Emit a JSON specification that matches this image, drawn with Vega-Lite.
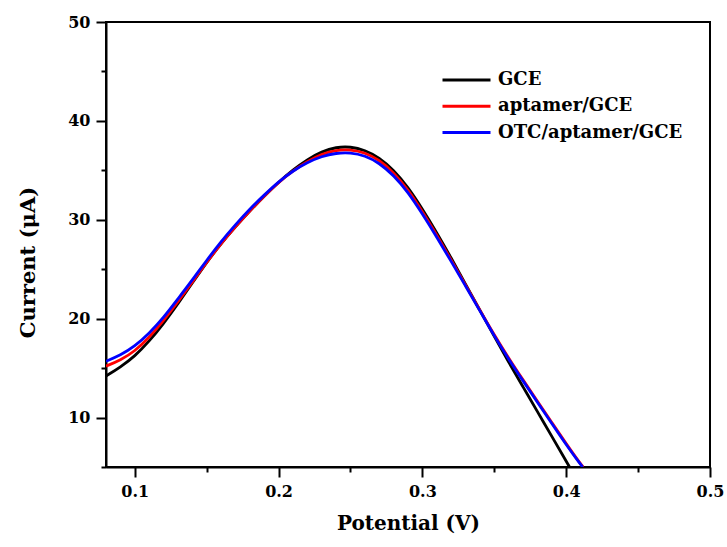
{
  "$schema": "https://vega.github.io/schema/vega-lite/v6.json",
  "width": 604,
  "height": 445,
  "autosize": {"type": "none"},
  "padding": {"left": 106, "top": 22, "right": 17, "bottom": 80},
  "background": "white",
  "config": {
    "view": {"stroke": "black", "strokeWidth": 2},
    "font": "DejaVu Serif"
  },
  "data": {
    "values": [
      {"electrode": "GCE", "potential": 0.080, "current": 14.2},
      {"electrode": "GCE", "potential": 0.090, "current": 15.1},
      {"electrode": "GCE", "potential": 0.100, "current": 16.2},
      {"electrode": "GCE", "potential": 0.110, "current": 17.7},
      {"electrode": "GCE", "potential": 0.120, "current": 19.5},
      {"electrode": "GCE", "potential": 0.130, "current": 21.5},
      {"electrode": "GCE", "potential": 0.140, "current": 23.6},
      {"electrode": "GCE", "potential": 0.150, "current": 25.7},
      {"electrode": "GCE", "potential": 0.160, "current": 27.6},
      {"electrode": "GCE", "potential": 0.170, "current": 29.3},
      {"electrode": "GCE", "potential": 0.180, "current": 30.9},
      {"electrode": "GCE", "potential": 0.190, "current": 32.4},
      {"electrode": "GCE", "potential": 0.200, "current": 33.8},
      {"electrode": "GCE", "potential": 0.210, "current": 35.05},
      {"electrode": "GCE", "potential": 0.220, "current": 36.1},
      {"electrode": "GCE", "potential": 0.230, "current": 36.9},
      {"electrode": "GCE", "potential": 0.240, "current": 37.35},
      {"electrode": "GCE", "potential": 0.250, "current": 37.4},
      {"electrode": "GCE", "potential": 0.260, "current": 37.05},
      {"electrode": "GCE", "potential": 0.270, "current": 36.3},
      {"electrode": "GCE", "potential": 0.280, "current": 35.05},
      {"electrode": "GCE", "potential": 0.290, "current": 33.3},
      {"electrode": "GCE", "potential": 0.300, "current": 31.1},
      {"electrode": "GCE", "potential": 0.310, "current": 28.7},
      {"electrode": "GCE", "potential": 0.320, "current": 26.15},
      {"electrode": "GCE", "potential": 0.330, "current": 23.5},
      {"electrode": "GCE", "potential": 0.340, "current": 20.85},
      {"electrode": "GCE", "potential": 0.350, "current": 18.2},
      {"electrode": "GCE", "potential": 0.360, "current": 15.6},
      {"electrode": "GCE", "potential": 0.370, "current": 13.1},
      {"electrode": "GCE", "potential": 0.380, "current": 10.6},
      {"electrode": "GCE", "potential": 0.390, "current": 8.1},
      {"electrode": "GCE", "potential": 0.400, "current": 5.6},
      {"electrode": "GCE", "potential": 0.4023, "current": 5.0},
      {"electrode": "aptamer/GCE", "potential": 0.080, "current": 15.2},
      {"electrode": "aptamer/GCE", "potential": 0.090, "current": 15.8},
      {"electrode": "aptamer/GCE", "potential": 0.100, "current": 16.7},
      {"electrode": "aptamer/GCE", "potential": 0.110, "current": 18.1},
      {"electrode": "aptamer/GCE", "potential": 0.120, "current": 19.8},
      {"electrode": "aptamer/GCE", "potential": 0.130, "current": 21.7},
      {"electrode": "aptamer/GCE", "potential": 0.140, "current": 23.7},
      {"electrode": "aptamer/GCE", "potential": 0.150, "current": 25.7},
      {"electrode": "aptamer/GCE", "potential": 0.160, "current": 27.6},
      {"electrode": "aptamer/GCE", "potential": 0.170, "current": 29.3},
      {"electrode": "aptamer/GCE", "potential": 0.180, "current": 30.9},
      {"electrode": "aptamer/GCE", "potential": 0.190, "current": 32.4},
      {"electrode": "aptamer/GCE", "potential": 0.200, "current": 33.8},
      {"electrode": "aptamer/GCE", "potential": 0.210, "current": 34.95},
      {"electrode": "aptamer/GCE", "potential": 0.220, "current": 35.9},
      {"electrode": "aptamer/GCE", "potential": 0.230, "current": 36.65},
      {"electrode": "aptamer/GCE", "potential": 0.240, "current": 37.05},
      {"electrode": "aptamer/GCE", "potential": 0.250, "current": 37.1},
      {"electrode": "aptamer/GCE", "potential": 0.260, "current": 36.8},
      {"electrode": "aptamer/GCE", "potential": 0.270, "current": 36.05},
      {"electrode": "aptamer/GCE", "potential": 0.280, "current": 34.8},
      {"electrode": "aptamer/GCE", "potential": 0.290, "current": 33.05},
      {"electrode": "aptamer/GCE", "potential": 0.300, "current": 30.85},
      {"electrode": "aptamer/GCE", "potential": 0.310, "current": 28.45},
      {"electrode": "aptamer/GCE", "potential": 0.320, "current": 25.95},
      {"electrode": "aptamer/GCE", "potential": 0.330, "current": 23.4},
      {"electrode": "aptamer/GCE", "potential": 0.340, "current": 20.85},
      {"electrode": "aptamer/GCE", "potential": 0.350, "current": 18.35},
      {"electrode": "aptamer/GCE", "potential": 0.360, "current": 16.0},
      {"electrode": "aptamer/GCE", "potential": 0.370, "current": 13.8},
      {"electrode": "aptamer/GCE", "potential": 0.380, "current": 11.65},
      {"electrode": "aptamer/GCE", "potential": 0.390, "current": 9.5},
      {"electrode": "aptamer/GCE", "potential": 0.400, "current": 7.35},
      {"electrode": "aptamer/GCE", "potential": 0.410, "current": 5.3},
      {"electrode": "aptamer/GCE", "potential": 0.4118, "current": 5.0},
      {"electrode": "OTC/aptamer/GCE", "potential": 0.080, "current": 15.7},
      {"electrode": "OTC/aptamer/GCE", "potential": 0.090, "current": 16.3},
      {"electrode": "OTC/aptamer/GCE", "potential": 0.100, "current": 17.2},
      {"electrode": "OTC/aptamer/GCE", "potential": 0.110, "current": 18.5},
      {"electrode": "OTC/aptamer/GCE", "potential": 0.120, "current": 20.1},
      {"electrode": "OTC/aptamer/GCE", "potential": 0.130, "current": 22.0},
      {"electrode": "OTC/aptamer/GCE", "potential": 0.140, "current": 23.9},
      {"electrode": "OTC/aptamer/GCE", "potential": 0.150, "current": 25.9},
      {"electrode": "OTC/aptamer/GCE", "potential": 0.160, "current": 27.8},
      {"electrode": "OTC/aptamer/GCE", "potential": 0.170, "current": 29.5},
      {"electrode": "OTC/aptamer/GCE", "potential": 0.180, "current": 31.1},
      {"electrode": "OTC/aptamer/GCE", "potential": 0.190, "current": 32.5},
      {"electrode": "OTC/aptamer/GCE", "potential": 0.200, "current": 33.85},
      {"electrode": "OTC/aptamer/GCE", "potential": 0.210, "current": 34.95},
      {"electrode": "OTC/aptamer/GCE", "potential": 0.220, "current": 35.8},
      {"electrode": "OTC/aptamer/GCE", "potential": 0.230, "current": 36.42},
      {"electrode": "OTC/aptamer/GCE", "potential": 0.240, "current": 36.75},
      {"electrode": "OTC/aptamer/GCE", "potential": 0.250, "current": 36.8},
      {"electrode": "OTC/aptamer/GCE", "potential": 0.260, "current": 36.5},
      {"electrode": "OTC/aptamer/GCE", "potential": 0.270, "current": 35.75},
      {"electrode": "OTC/aptamer/GCE", "potential": 0.280, "current": 34.5},
      {"electrode": "OTC/aptamer/GCE", "potential": 0.290, "current": 32.8},
      {"electrode": "OTC/aptamer/GCE", "potential": 0.300, "current": 30.6},
      {"electrode": "OTC/aptamer/GCE", "potential": 0.310, "current": 28.25},
      {"electrode": "OTC/aptamer/GCE", "potential": 0.320, "current": 25.8},
      {"electrode": "OTC/aptamer/GCE", "potential": 0.330, "current": 23.3},
      {"electrode": "OTC/aptamer/GCE", "potential": 0.340, "current": 20.8},
      {"electrode": "OTC/aptamer/GCE", "potential": 0.350, "current": 18.25},
      {"electrode": "OTC/aptamer/GCE", "potential": 0.360, "current": 15.9},
      {"electrode": "OTC/aptamer/GCE", "potential": 0.370, "current": 13.7},
      {"electrode": "OTC/aptamer/GCE", "potential": 0.380, "current": 11.55},
      {"electrode": "OTC/aptamer/GCE", "potential": 0.390, "current": 9.4},
      {"electrode": "OTC/aptamer/GCE", "potential": 0.400, "current": 7.25},
      {"electrode": "OTC/aptamer/GCE", "potential": 0.410, "current": 5.25},
      {"electrode": "OTC/aptamer/GCE", "potential": 0.4115, "current": 5.0}
    ]
  },
  "mark": {"type": "line", "interpolate": "basis", "strokeWidth": 2.8, "clip": true},
  "encoding": {
    "x": {
      "field": "potential",
      "type": "quantitative",
      "scale": {"domain": [0.08, 0.5], "nice": false, "zero": false},
      "axis": {
        "values": [0.1, 0.15, 0.2, 0.25, 0.3, 0.35, 0.4, 0.45, 0.5],
        "title": "Potential (V)",
        "grid": false,
        "domainColor": "black",
        "domainWidth": 2,
        "tickColor": "black",
        "tickWidth": 2,
        "tickSize": {"condition": {"test": "abs(datum.value*10 - round(datum.value*10)) < 0.001", "value": 10}, "value": 5},
        "labelExpr": "abs(datum.value*10 - round(datum.value*10)) < 0.001 ? format(datum.value, '.1f') : ''",
        "labelFont": "DejaVu Serif",
        "labelFontSize": 16,
        "labelFontWeight": "bold",
        "labelColor": "black",
        "labelPadding": 6,
        "labelFlush": false,
        "labelOverlap": false,
        "titleFont": "DejaVu Serif",
        "titleFontSize": 20,
        "titleFontWeight": "bold",
        "titleColor": "black",
        "titleBaseline": "alphabetic",
        "titleY": 62
      }
    },
    "y": {
      "field": "current",
      "type": "quantitative",
      "scale": {"domain": [5, 50], "nice": false, "zero": false},
      "axis": {
        "values": [5, 10, 15, 20, 25, 30, 35, 40, 45, 50],
        "title": "Current (μA)",
        "grid": false,
        "domainColor": "black",
        "domainWidth": 2,
        "tickColor": "black",
        "tickWidth": 2,
        "tickSize": {"condition": {"test": "datum.value % 10 === 0", "value": 10}, "value": 5},
        "labelExpr": "datum.value % 10 === 0 ? datum.label : ''",
        "labelFont": "DejaVu Serif",
        "labelFontSize": 16,
        "labelFontWeight": "bold",
        "labelColor": "black",
        "labelPadding": 6,
        "labelFlush": false,
        "labelOverlap": false,
        "titleFont": "DejaVu Serif",
        "titleFontSize": 21,
        "titleFontWeight": "bold",
        "titleColor": "black",
        "titleAngle": -90,
        "titleBaseline": "alphabetic",
        "titleAlign": "center",
        "titleX": -72,
        "titleY": 240
      }
    },
    "color": {
      "field": "electrode",
      "type": "nominal",
      "scale": {
        "domain": ["GCE", "aptamer/GCE", "OTC/aptamer/GCE"],
        "range": ["#000000", "#ff0000", "#0000ff"]
      },
      "legend": {
        "orient": "none",
        "legendX": 335,
        "legendY": 48,
        "title": null,
        "padding": 0,
        "symbolType": "stroke",
        "symbolSize": 2304,
        "symbolStrokeWidth": 3,
        "clipHeight": 20,
        "labelFont": "DejaVu Serif",
        "labelFontSize": 18,
        "labelFontWeight": "bold",
        "labelColor": "black",
        "labelLimit": 400,
        "labelOffset": 6,
        "rowPadding": 6.3
      }
    }
  }
}
